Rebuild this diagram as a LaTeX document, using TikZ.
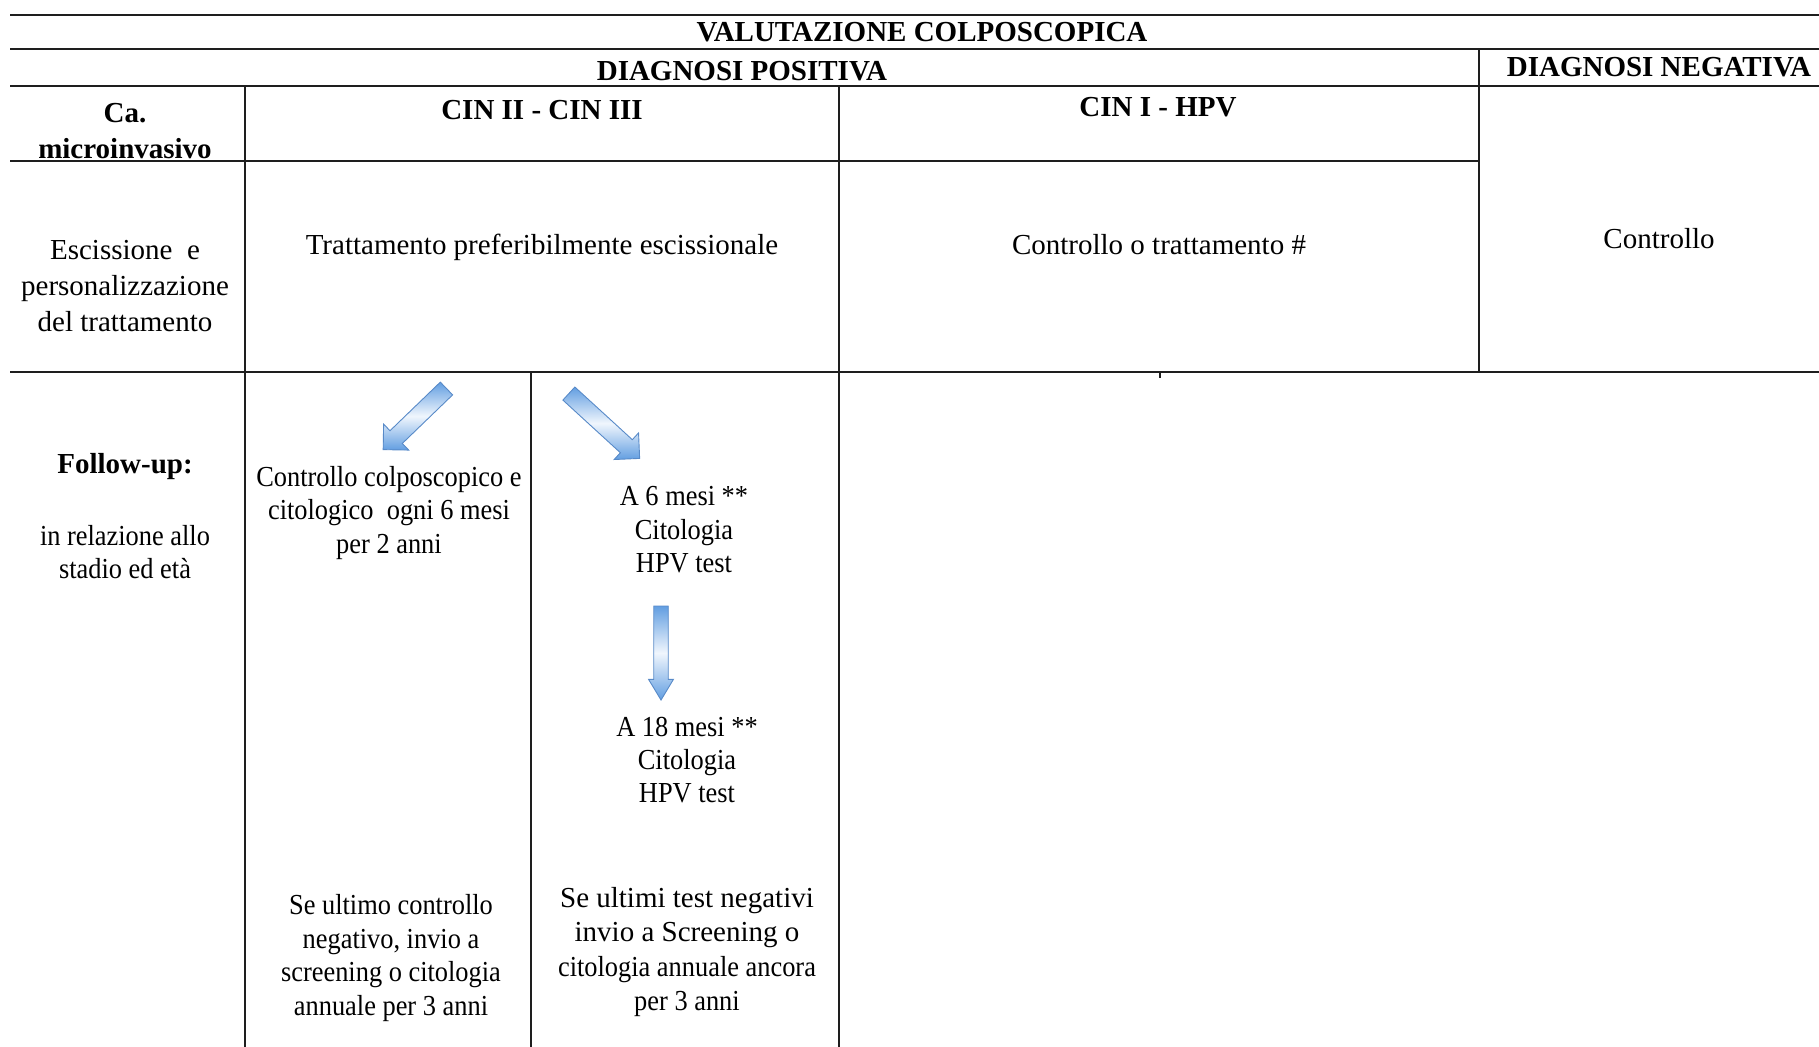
\documentclass[tikz,border=0pt]{standalone}
\usepackage{fontspec}
\setmainfont{Liberation Serif}
\newfontfamily\narrowserif{Liberation Serif}[FakeStretch=0.91]
\usetikzlibrary{shapes.arrows}
\definecolor{rulecol}{RGB}{30,30,30}
\definecolor{arrowlight}{RGB}{240,246,253}
\definecolor{arrowdark}{RGB}{98,158,225}
\definecolor{arrowedge}{RGB}{88,138,200}
\begin{document}
\begin{tikzpicture}[x=0.5pt,y=-0.5pt,
  hrule/.style={line width=1.25pt, draw=rulecol},
  vrule/.style={line width=0.75pt, draw=rulecol},
  txt/.style={font=\fontsize{14.5pt}{16.7pt}\selectfont, align=center, inner sep=0pt},
  ntxt/.style={font=\fontsize{14.5pt}{16.7pt}\selectfont\narrowserif, align=center, inner sep=0pt},
  hdr/.style={font=\fontsize{14.5pt}{16.7pt}\selectfont\bfseries, align=center, inner sep=0pt},
  flow/.style={single arrow, draw=arrowedge, line width=0.45pt,
    inner sep=4.2pt, single arrow head extend=4.6pt,
    top color=arrowdark, bottom color=arrowdark, middle color=arrowlight},
  flowthin/.style={flow, inner sep=3.4pt, single arrow head extend=2.6pt,
    single arrow tip angle=62}
]
\useasboundingbox (0,0) rectangle (1819,1047);

% horizontal rules of the table
\draw[hrule] (10,15) -- (1819,15);
\draw[hrule] (10,49) -- (1819,49);
\draw[hrule] (10,86) -- (1819,86);
\draw[hrule] (10,161) -- (1479,161);
\draw[hrule] (10,372) -- (1819,372);

% vertical rules
\draw[vrule] (245,86) -- (245,1047);
\draw[vrule] (839,86) -- (839,1047);
\draw[vrule] (1479,49) -- (1479,372);
\draw[vrule] (531,372) -- (531,1047);
\draw[vrule] (1160,372) -- (1160,378);

% header texts
\node[hdr] (title) at (922,32) {VALUTAZIONE COLPOSCOPICA};
\node[hdr] (pos) at (742,71) {DIAGNOSI POSITIVA};
\node[hdr] (neg) at (1659,67) {DIAGNOSI NEGATIVA};
\node[hdr, font=\fontsize{14.5pt}{18pt}\selectfont\bfseries] (ca) at (125,131) {Ca.\\microinvasivo};
\node[hdr] (cin23) at (542,110) {CIN II - CIN III};
\node[hdr] (cin1) at (1158,107) {CIN I - HPV};

% treatment row
\node[txt, font=\fontsize{14.5pt}{18.2pt}\selectfont] (exc) at (125,286)
  {Escissione\ \ e\\personalizzazione\\del trattamento};
\node[txt] (tratt) at (542,247) {Trattamento preferibilmente escissionale};
\node[txt] (ctrt) at (1159,245) {Controllo o trattamento \#};
\node[txt] (ctrl) at (1659,239) {Controllo};

% follow-up row
\node[hdr] (fu) at (125,467) {Follow-up:};
\node[ntxt] (stadio) at (125,552) {in relazione allo\\stadio ed età};
\node[ntxt] (colpo) at (389,513) {Controllo colposcopico e\\citologico\ \ ogni 6 mesi\\per 2 anni};
\node[ntxt] (m6) at (684,530) {A 6 mesi **\\Citologia\\HPV test};
\node[ntxt] (m18) at (687,760) {A 18 mesi **\\Citologia\\HPV test};
\node[ntxt] (last1) at (391,958) {Se ultimo controllo\\negativo, invio a\\screening o citologia\\annuale per 3 anni};
\node[ntxt, font=\fontsize{14.5pt}{17.2pt}\selectfont\narrowserif] (last2) at (687,952)
  {{\rmfamily Se ultimi test negativi}\\{\rmfamily invio a Screening o}\\citologia annuale ancora\\per 3 anni};

% block arrows
\node[flow, minimum height=44pt, rotate=-136] (aleft) at (418,416) {};
\node[flow, minimum height=48pt, rotate=-42.5] (aright) at (601,423) {};
\node[flowthin, minimum height=47pt, rotate=-90] (adown) at (661,647) {};
\end{tikzpicture}
\end{document}
